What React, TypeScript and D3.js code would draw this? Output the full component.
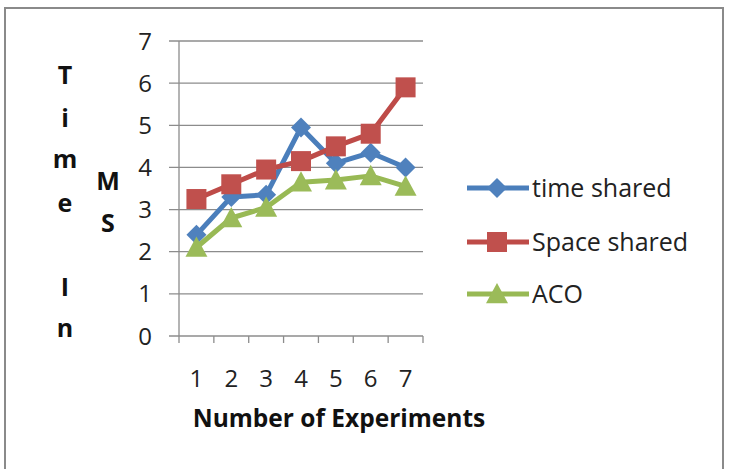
import React from "react";
import * as d3 from "d3";

const experiments = ["1", "2", "3", "4", "5", "6", "7"];
const timeShared = [2.4, 3.3, 3.35, 4.95, 4.1, 4.35, 4.0];
const spaceShared = [3.25, 3.6, 3.95, 4.15, 4.5, 4.8, 5.9];
const aco = [2.1, 2.8, 3.05, 3.65, 3.7, 3.8, 3.55];
const yTicks = [0, 1, 2, 3, 4, 5, 6, 7];
const seriesNames = ["time shared", "Space shared", "ACO"];

const W = 729;
const H = 469;
const FONT = "'Open Sans', 'Noto Sans', sans-serif";

const colors = ["#4A7EBB", "#BE4B48", "#98B954"];
const markerFill = ["#4F81BD", "#C0504D", "#9BBB59"];

function Marker({ kind, x, y, fill }: { kind: number; x: number; y: number; fill: string }) {
  if (kind === 0) {
    const s = 10;
    return <path d={`M${x},${y - s}L${x + s},${y}L${x},${y + s}L${x - s},${y}Z`} fill={fill} />;
  }
  if (kind === 1) {
    const s = 10;
    return <rect x={x - s} y={y - s} width={2 * s} height={2 * s} fill={fill} />;
  }
  const s = 11;
  return <path d={`M${x},${y - s}L${x + s},${y + s * 0.85}L${x - s},${y + s * 0.85}Z`} fill={fill} />;
}

export default function App() {
  const x = d3.scaleBand<string>().domain(experiments).range([179, 423]);
  const y = d3.scaleLinear().domain([0, 7]).range([336, 41]);
  const allSeries = [timeShared, spaceShared, aco];
  const cx = (i: number) => (x(experiments[i]) ?? 0) + x.bandwidth() / 2;
  const line = d3
    .line<number>()
    .x((_, i) => cx(i))
    .y((d) => y(d));

  // vertical axis title, one letter per row
  const titleLetters1 = [
    { t: "T", y: 84 },
    { t: "i", y: 127 },
    { t: "m", y: 168 },
    { t: "e", y: 212 },
    { t: "I", y: 296 },
    { t: "n", y: 337 },
  ];
  const titleLetters2 = [
    { t: "M", y: 190 },
    { t: "S", y: 232 },
  ];
  const legendY = [188, 242, 294];

  return (
    <svg
      width={W}
      height={H}
      style={{ position: "absolute", left: 0, top: 0, background: "#fff" }}
      fontFamily={FONT}
    >
      <rect x={0} y={0} width={W} height={H} fill="#fff" />
      <path d={`M5,${H + 2}V8H723V${H + 2}`} fill="none" stroke="#8a8a8a" strokeWidth={2} />

      {/* gridlines and y ticks */}
      {yTicks.map((t) => (
        <g key={t}>
          <line x1={169} x2={423} y1={y(t)} y2={y(t)} stroke="#8c8c8c" strokeWidth={1.3} />
          <text x={152} y={y(t) + 8.5} textAnchor="end" fontSize={24} fill="#222">
            {t}
          </text>
        </g>
      ))}
      <line x1={179} x2={179} y1={y(7)} y2={y(0) + 7} stroke="#8c8c8c" strokeWidth={1.3} />
      {experiments.map((e) => (
        <g key={e}>
          <line
            x1={(x(e) ?? 0) + x.bandwidth()}
            x2={(x(e) ?? 0) + x.bandwidth()}
            y1={y(0)}
            y2={y(0) + 7}
            stroke="#8c8c8c"
            strokeWidth={1.3}
          />
          <text
            x={(x(e) ?? 0) + x.bandwidth() / 2}
            y={387}
            textAnchor="middle"
            fontSize={24}
            fill="#222"
          >
            {e}
          </text>
        </g>
      ))}

      {/* series */}
      {allSeries.map((s, k) => (
        <g key={k}>
          <path d={line(s) ?? ""} fill="none" stroke={colors[k]} strokeWidth={5} strokeLinejoin="round" />
          {s.map((v, i) => (
            <Marker key={i} kind={k} x={cx(i)} y={y(v)} fill={markerFill[k]} />
          ))}
        </g>
      ))}

      {/* axis titles */}
      {titleLetters1.map((l, i) => (
        <text key={i} x={65} y={l.y} textAnchor="middle" fontSize={25} fontWeight="bold" fill="#111">
          {l.t}
        </text>
      ))}
      {titleLetters2.map((l, i) => (
        <text key={i} x={108} y={l.y} textAnchor="middle" fontSize={25} fontWeight="bold" fill="#111">
          {l.t}
        </text>
      ))}
      <text x={339} y={427} textAnchor="middle" fontSize={24.5} fontWeight="bold" fill="#111">
        Number of Experiments
      </text>

      {/* legend */}
      {seriesNames.map((n, k) => (
        <g key={n}>
          <line x1={467} x2={529} y1={legendY[k]} y2={legendY[k]} stroke={colors[k]} strokeWidth={5} />
          <Marker kind={k} x={497} y={legendY[k]} fill={markerFill[k]} />
          <text x={532} y={legendY[k] + 9} fontSize={25} fill="#222">
            {n}
          </text>
        </g>
      ))}
    </svg>
  );
}
